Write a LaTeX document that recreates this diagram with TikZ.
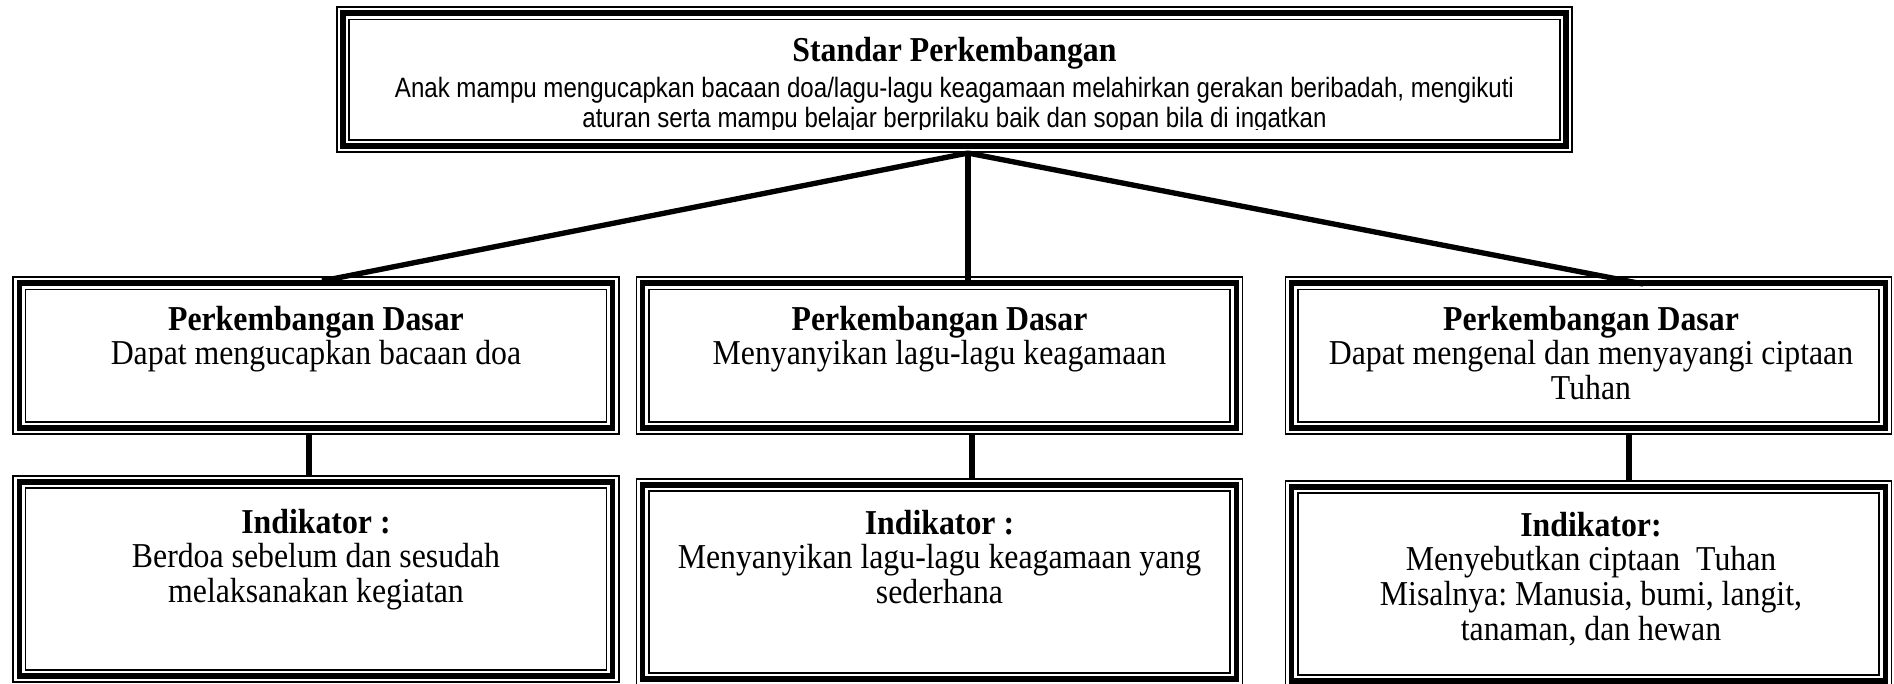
\documentclass[tikz,border=0pt]{standalone}
\usepackage{fontspec}
\setmainfont{Liberation Serif}[FakeStretch=0.91]
\newfontfamily\narrowsans[FakeStretch=0.86]{Liberation Sans}
\usepackage{tikz}
\usetikzlibrary{calc,positioning}
\frenchspacing

\tikzset{
        frame/.style={draw, line width=2pt, inner sep=0pt, outer sep=2.675pt, minimum width=222.6pt,
                preaction={draw, line width=0.65pt, double=white, double distance=4.05pt}},
        txt/.style={font=\fontsize{13.1}{13.1}\selectfont, text width=225pt, align=flush center, inner sep=0pt, anchor=base},
        conn/.style={line width=2pt}
}

\begin{document}
\begin{tikzpicture}[x=0.375pt, y=-0.375pt]
        \useasboundingbox (0,0) rectangle (1894,683);

        \node[frame, minimum width=458.6pt, minimum height=49.8pt] (top) at (954.5,79.5) {};
        \node[frame, minimum height=54.3pt] (pd1) at (316,355.5) {};
        \node[frame, minimum height=54.3pt] (pd2) at (939.5,355.5) {};
        \node[frame, minimum height=54.3pt] (pd3) at (1588.5,355.5) {};
        \node[frame, minimum height=72.7pt] (ind1) at (316,579) {};
        \node[frame, minimum height=72.7pt] (ind2) at (939.5,582) {};
        \node[frame, minimum height=72.7pt] (ind3) at (1588.5,584) {};

        \node[txt, font=\bfseries\fontsize{13.1}{13.1}\selectfont] (toptitle) at (954.5,61) {Standar Perkembangan};
        \begin{scope}
                \clip (340,60) rectangle (1570,129);
                \node[txt, text width=450pt, font=\narrowsans\fontsize{10.5}{11.25}\selectfont] (toptext) at (954.5,97)
                        {Anak mampu mengucapkan bacaan doa/lagu-lagu keagamaan melahirkan gerakan beribadah, mengikuti\\
                        aturan serta mampu belajar berprilaku baik dan sopan bila di ingatkan};
        \end{scope}

        \node[txt] (pdtext1) at (316,330) {\textbf{Perkembangan Dasar}\\Dapat mengucapkan bacaan doa};
        \node[txt] (pdtext2) at (939.5,330) {\textbf{Perkembangan Dasar}\\Menyanyikan lagu-lagu keagamaan};
        \node[txt] (pdtext3) at (1591,330) {\textbf{Perkembangan Dasar}\\Dapat mengenal dan menyayangi ciptaan\\Tuhan};

        \node[txt] (indtext1) at (316,533) {\textbf{Indikator :}\\Berdoa sebelum dan sesudah\\melaksanakan kegiatan};
        \node[txt] (indtext2) at (939.5,534) {\textbf{Indikator :}\\Menyanyikan lagu-lagu keagamaan yang\\sederhana};
        \node[txt] (indtext3) at (1591,536) {\textbf{Indikator:}\\Menyebutkan ciptaan~ Tuhan\\Misalnya: Manusia, bumi, langit,\\tanaman, dan hewan};

        \coordinate (apex) at ($(top.south)+(13.5,0)$);
        \draw[conn] (apex) -- ($(pd1.north)+(6,5)$);
        \draw[conn] (apex) -- ($(pd2.north)+(28.5,6)$);
        \draw[conn] (apex) -- ($(pd3.north)+(54.5,8)$);

        \draw[conn] ($(pd1.south)+(-7,0)$) -- ($(ind1.north)+(-7,0)$);
        \draw[conn] ($(pd2.south)+(32.5,0)$) -- ($(ind2.north)+(32.5,0)$);
        \draw[conn] ($(pd3.south)+(40.5,0)$) -- ($(ind3.north)+(40.5,0)$);

\end{tikzpicture}
\end{document}
